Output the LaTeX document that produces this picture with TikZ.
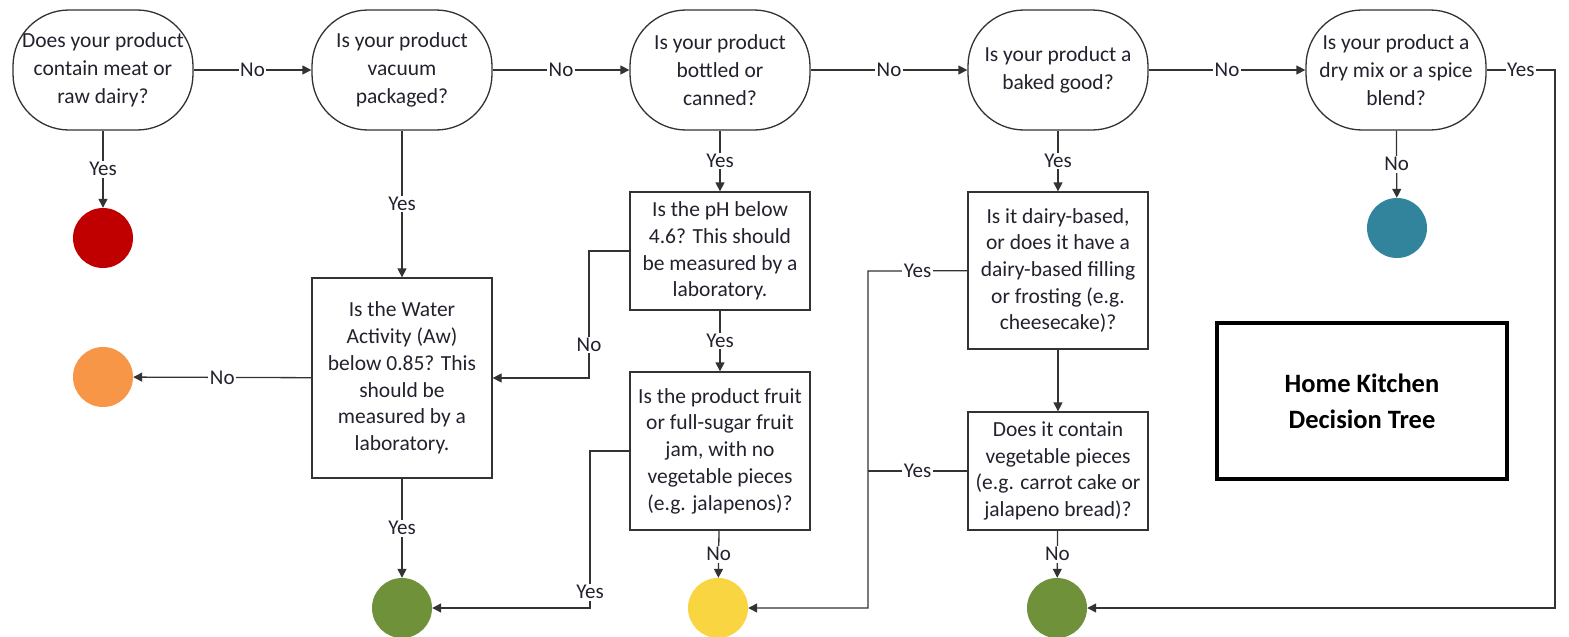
\documentclass[tikz,border=0pt]{standalone}
\usepackage{fontspec}
\setmainfont{Carlito}
\usetikzlibrary{arrows.meta}
\definecolor{linec}{HTML}{333333}
\definecolor{txt}{HTML}{22222E}
\definecolor{cred}{HTML}{C00000}
\definecolor{corange}{HTML}{F79646}
\definecolor{cgreen}{HTML}{6E9139}
\definecolor{cyellow}{HTML}{FAD542}
\definecolor{cteal}{HTML}{31849B}
\begin{document}
\begin{tikzpicture}[x=1pt,y=-1pt,
  q/.style={draw=linec, line width=1.3pt, rounded corners=56pt, minimum width=180pt, minimum height=120pt, inner sep=0pt, align=center, text=txt, font=\fontsize{21.5}{28}\selectfont},
  qbox/.style={draw=linec, line width=1.3pt, minimum width=180pt, inner sep=0pt, align=center, text=txt, font=\fontsize{21.5}{26.7}\selectfont},
  dot/.style={circle, minimum size=60pt, inner sep=0pt},
  arr/.style={draw=linec, line width=1.3pt, -{Triangle[length=9pt,width=9pt]}},
  ln/.style={draw=linec, line width=1.3pt},
  lbl/.style={fill=white, inner sep=1.5pt, text=txt, font=\fontsize{21}{24}\selectfont}]
\useasboundingbox (0,0) rectangle (1569,637);

% question nodes
\node[q] (n1) at (103,70) {Does your product\\contain meat or\\raw dairy?};
\node[q] (n2) at (402,70) {Is your product\\vacuum\\packaged?};
\node[q] (n3) at (720,70) {Is your product\\bottled or\\canned?};
\node[q] (n4) at (1058,70) {Is your product a\\baked good?};
\node[q] (n5) at (1396,70) {Is your product a\\dry mix or a spice\\blend?};

% boxes
\node[qbox, minimum height=200pt] (aw) at (402,378) {Is the Water\\Activity (Aw)\\below 0.85? This\\should be\\measured by a\\laboratory.};
\node[qbox, minimum height=118pt] (ph) at (720,251) {Is the pH below\\4.6? This should\\be measured by a\\laboratory.};
\node[qbox, minimum height=158pt] (fruit) at (720,451) {Is the product fruit\\or full-sugar fruit\\jam, with no\\vegetable pieces\\(e.g. jalapenos)?};
\node[qbox, minimum height=157pt] (dairy) at (1058,270.5) {Is it dairy-based,\\or does it have a\\dairy-based filling\\or frosting (e.g.\\cheesecake)?};
\node[qbox, minimum height=118pt] (veg) at (1058,471) {Does it contain\\vegetable pieces\\(e.g. carrot cake or\\jalapeno bread)?};

% title
\node[draw=black, line width=3.5pt, minimum width=290pt, minimum height=156pt, align=center, font=\fontsize{26.5}{36}\selectfont\bfseries] (title) at (1362,401) {Home Kitchen\\Decision Tree};

% outcome dots
\node[dot, fill=cred] (red) at (103,238) {};
\node[dot, fill=corange] (orange) at (103,377) {};
\node[dot, fill=cgreen] (g1) at (402,608) {};
\node[dot, fill=cyellow] (yel) at (718,608) {};
\node[dot, fill=cgreen] (g2) at (1057,608) {};
\node[dot, fill=cteal] (teal) at (1397,228) {};

% corner coordinates
\coordinate (c1) at (589,251);
\coordinate (c2) at (590,451);
\coordinate (c3) at (868,271);
\coordinate (c4) at (868,471);
\coordinate (c5) at (1555,70);

% main row
\draw[arr] (n1) -- node[lbl] (l1) {No} (n2);
\draw[arr] (n2) -- node[lbl] (l2) {No} (n3);
\draw[arr] (n3) -- node[lbl] (l3) {No} (n4);
\draw[arr] (n4) -- node[lbl] (l4) {No} (n5);
\draw[arr] (n5) -- node[lbl] (l5) {Yes} (c5) |- (g2);

% downward
\draw[arr] (n1) -- node[lbl] (l6) {Yes} (red);
\draw[arr] (n2) -- node[lbl] (l7) {Yes} (aw);
\draw[arr] (aw) -- node[lbl] (l8) {No} (orange);
\draw[arr] (aw) -- node[lbl] (l9) {Yes} (g1);
\draw[arr] (n3) -- node[lbl] (l10) {Yes} (ph);
\draw[arr] (ph) -- (c1) |- node[lbl, pos=0.37] (l11) {No} (aw);
\draw[arr] (ph) -- node[lbl] (l12) {Yes} (fruit);
\draw[arr] (fruit) -- node[lbl] (l13) {No} (yel);
\draw[arr] (fruit) -- (c2) |- node[lbl, pos=0.45] (l14) {Yes} (g1);
\draw[arr] (n4) -- node[lbl] (l15) {Yes} (dairy);
\draw[arr] (dairy) -- node[lbl] (l16) {Yes} (c3) |- (yel);
\draw[ln] (veg) -- node[lbl] (l17) {Yes} (c4);
\draw[arr] (dairy) -- (veg);
\draw[arr] (veg) -- node[lbl] (l18) {No} (g2);
\draw[arr] (n5) -- node[lbl] (l19) {No} (teal);
\end{tikzpicture}
\end{document}
